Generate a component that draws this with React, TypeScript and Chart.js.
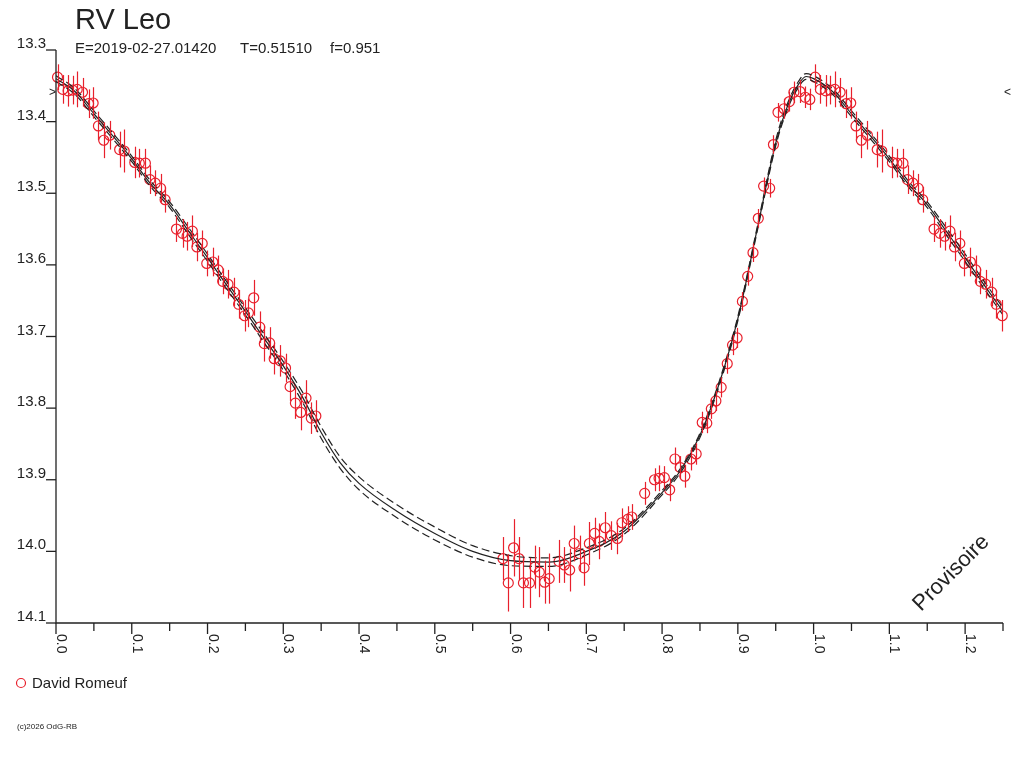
import React, { useEffect, useRef } from "react";
import { Chart, registerables } from "chart.js";

Chart.register(...registerables);

// Observations (phase, magnitude, error) - David Romeuf
const obsPhase = [
  0.002, 0.009, 0.016, 0.022, 0.028, 0.035, 0.043, 0.049, 0.056, 0.063,
  0.071, 0.084, 0.09, 0.104, 0.11, 0.118, 0.124, 0.131, 0.138, 0.144,
  0.159, 0.167, 0.173, 0.18, 0.186, 0.193, 0.199, 0.207, 0.214, 0.22,
  0.227, 0.235, 0.241, 0.249, 0.254, 0.261, 0.269, 0.275, 0.282, 0.288,
  0.296, 0.303, 0.309, 0.316, 0.323, 0.33, 0.337, 0.343,
  0.59, 0.597, 0.604, 0.611, 0.617, 0.625, 0.632, 0.638, 0.645, 0.651,
  0.664, 0.671, 0.678, 0.684, 0.691, 0.697, 0.704, 0.711, 0.717, 0.725,
  0.733, 0.741, 0.747, 0.755, 0.76, 0.777, 0.79, 0.796, 0.803, 0.81,
  0.817, 0.824, 0.83, 0.838, 0.845, 0.853, 0.859, 0.865, 0.871, 0.878,
  0.886, 0.893, 0.899, 0.906, 0.913, 0.92, 0.927, 0.934, 0.942, 0.947,
  0.953, 0.961, 0.968, 0.974, 0.982, 0.989, 0.995,
];
const obsMag = [
  13.338, 13.355, 13.357, 13.356, 13.355, 13.359, 13.375, 13.374, 13.406, 13.426,
  13.419, 13.439, 13.441, 13.457, 13.458, 13.458, 13.481, 13.486, 13.493, 13.509,
  13.55, 13.556, 13.56, 13.553, 13.575, 13.57, 13.598, 13.596, 13.607, 13.623,
  13.627, 13.638, 13.655, 13.671, 13.667, 13.646, 13.687, 13.71, 13.709, 13.731,
  13.734, 13.744, 13.77, 13.793, 13.806, 13.786, 13.814, 13.811,
  14.01, 14.044, 13.995, 14.01, 14.044, 14.044, 14.022, 14.029, 14.043, 14.038,
  14.014, 14.019, 14.026, 13.989, 14.003, 14.023, 13.989, 13.975, 13.986, 13.967,
  13.978, 13.982, 13.96, 13.955, 13.952, 13.919, 13.9, 13.898, 13.897, 13.914,
  13.871, 13.883, 13.895, 13.871, 13.864, 13.82, 13.821, 13.801, 13.79, 13.771,
  13.738, 13.712, 13.702, 13.651, 13.616, 13.583, 13.535, 13.49, 13.493, 13.432,
  13.387, 13.382, 13.372, 13.359, 13.358, 13.366, 13.369,
];
const obsErr = [
  0.018, 0.02, 0.022, 0.02, 0.025, 0.02, 0.02, 0.022, 0.02, 0.025,
  0.02, 0.025, 0.03, 0.022, 0.02, 0.02, 0.02, 0.018, 0.02, 0.018,
  0.018, 0.02, 0.02, 0.022, 0.02, 0.018, 0.018, 0.02, 0.02, 0.018,
  0.02, 0.02, 0.02, 0.022, 0.02, 0.025, 0.022, 0.025, 0.022, 0.022,
  0.022, 0.02, 0.02, 0.022, 0.025, 0.025, 0.022, 0.022,
  0.03, 0.04, 0.04, 0.03, 0.035, 0.035, 0.03, 0.035, 0.03, 0.035,
  0.03, 0.025, 0.03, 0.025, 0.025, 0.025, 0.03, 0.022, 0.025, 0.022,
  0.02, 0.022, 0.02, 0.018, 0.018, 0.016, 0.016, 0.018, 0.016, 0.016,
  0.016, 0.016, 0.016, 0.016, 0.015, 0.015, 0.014, 0.014, 0.014, 0.014,
  0.014, 0.014, 0.014, 0.013, 0.013, 0.013, 0.013, 0.012, 0.013, 0.013,
  0.013, 0.014, 0.014, 0.015, 0.016, 0.015, 0.015,
];

// Fitted light curve and its dashed envelope (half width)
const fitPhase = [
  0, 0.025, 0.05, 0.075, 0.1, 0.125, 0.15, 0.175, 0.2, 0.225,
  0.25, 0.275, 0.3, 0.325, 0.35, 0.375, 0.4, 0.45, 0.5, 0.55,
  0.6, 0.65, 0.7, 0.75, 0.8, 0.825, 0.85, 0.875, 0.9, 0.925,
  0.95, 0.965, 0.98, 0.99, 1.0,
];
const fitMag = [
  13.34, 13.358, 13.389, 13.42, 13.452, 13.487, 13.516, 13.553, 13.59, 13.628,
  13.665, 13.703, 13.741, 13.784, 13.834, 13.876, 13.905, 13.944, 13.975, 14.0,
  14.013, 14.015, 14.0, 13.972, 13.918, 13.886, 13.838, 13.767, 13.675, 13.553,
  13.43, 13.38, 13.348, 13.337, 13.34,
];
const fitSpread = [
  0.004, 0.004, 0.004, 0.004, 0.004, 0.004, 0.004, 0.005, 0.005, 0.005,
  0.005, 0.006, 0.006, 0.007, 0.008, 0.008, 0.009, 0.009, 0.009, 0.008,
  0.007, 0.006, 0.005, 0.004, 0.003, 0.003, 0.003, 0.003, 0.003, 0.003,
  0.004, 0.004, 0.004, 0.004, 0.004,
];

const yTickValues = [13.3, 13.4, 13.5, 13.6, 13.7, 13.8, 13.9, 14.0, 14.1];
const yTickLabels = ["13.3", "13.4", "13.5", "13.6", "13.7", "13.8", "13.9", "14.0", "14.1"];
const xMajorTicks = [0, 0.1, 0.2, 0.3, 0.4, 0.5, 0.6, 0.7, 0.8, 0.9, 1.0, 1.1, 1.2];
const xTickLabels = ["0.0", "0.1", "0.2", "0.3", "0.4", "0.5", "0.6", "0.7", "0.8", "0.9", "1.0", "1.1", "1.2"];
const xMinorTicks = [0.05, 0.15, 0.25, 0.35, 0.45, 0.55, 0.65, 0.75, 0.85, 0.95, 1.05, 1.15, 1.25];

const refMag = 13.359;
const PHASE_MAX = 1.25;

const RED = "#e8202c";
const INK = "#222222";
const FONT = '"Liberation Sans", Arial, sans-serif';

// repeat phases 0..0.25 after 1.0
const fold = (pts: { x: number; y: number; e?: number }[]) => [
  ...pts,
  ...pts.filter((p) => p.x > 0 && p.x + 1 <= PHASE_MAX + 0.001).map((p) => ({ ...p, x: p.x + 1 })),
];

const observations = fold(obsPhase.map((p, i) => ({ x: p, y: obsMag[i], e: obsErr[i] })));
const fitMid = fold(fitPhase.map((p, i) => ({ x: p, y: fitMag[i] })));
const fitHi = fold(fitPhase.map((p, i) => ({ x: p, y: fitMag[i] - fitSpread[i] })));
const fitLo = fold(fitPhase.map((p, i) => ({ x: p, y: fitMag[i] + fitSpread[i] })));

const errorBars = {
  id: "errorBars",
  afterDatasetsDraw(chart: any) {
    const { ctx, scales } = chart;
    const ds = chart.data.datasets[3].data as any[];
    ctx.save();
    ctx.strokeStyle = RED;
    ctx.lineWidth = 1.2;
    ds.forEach((p) => {
      const x = Math.round(scales.x.getPixelForValue(p.x)) + 0.5;
      ctx.beginPath();
      ctx.moveTo(x, scales.y.getPixelForValue(p.y - p.e));
      ctx.lineTo(x, scales.y.getPixelForValue(p.y + p.e));
      ctx.stroke();
    });
    ctx.restore();
  },
};

const decorations = {
  id: "decorations",
  afterDraw(chart: any) {
    const { ctx, scales, chartArea } = chart;
    const { left, right, top, bottom } = chartArea;
    ctx.save();
    ctx.strokeStyle = INK;
    ctx.fillStyle = INK;
    ctx.lineWidth = 1.3;

    // axes
    ctx.beginPath();
    ctx.moveTo(left, top);
    ctx.lineTo(left, bottom);
    ctx.lineTo(right, bottom);
    ctx.stroke();

    // y ticks
    ctx.font = `15px ${FONT}`;
    ctx.textAlign = "right";
    ctx.textBaseline = "alphabetic";
    yTickValues.forEach((v, i) => {
      const y = scales.y.getPixelForValue(v);
      ctx.beginPath();
      ctx.moveTo(left - 10, y);
      ctx.lineTo(left, y);
      ctx.stroke();
      ctx.fillText(yTickLabels[i], left - 10, y - 2);
    });

    // x ticks
    xMajorTicks.forEach((v, i) => {
      const x = scales.x.getPixelForValue(v);
      ctx.beginPath();
      ctx.moveTo(x, bottom);
      ctx.lineTo(x, bottom + 11);
      ctx.stroke();
      ctx.save();
      ctx.translate(x + 1, bottom + 11);
      ctx.rotate(Math.PI / 2);
      ctx.font = `14px ${FONT}`;
      ctx.textAlign = "left";
      ctx.fillText(xTickLabels[i], 0, 0);
      ctx.restore();
    });
    xMinorTicks.forEach((v) => {
      const x = scales.x.getPixelForValue(v);
      ctx.beginPath();
      ctx.moveTo(x, bottom);
      ctx.lineTo(x, bottom + 8);
      ctx.stroke();
    });

    // reference markers
    const yRef = scales.y.getPixelForValue(refMag);
    ctx.font = `12px ${FONT}`;
    ctx.textBaseline = "middle";
    ctx.textAlign = "right";
    ctx.fillText(">", left, yRef);
    ctx.textAlign = "left";
    ctx.fillText("<", right + 1, yRef);

    // title block
    ctx.textBaseline = "alphabetic";
    ctx.font = `29px ${FONT}`;
    ctx.fillText("RV Leo", 75, 29);
    ctx.font = `15px ${FONT}`;
    ctx.fillText("E=2019-02-27.01420", 75, 53);
    ctx.fillText("T=0.51510", 240, 53);
    ctx.fillText("f=0.951", 330, 53);

    // legend
    ctx.strokeStyle = RED;
    ctx.lineWidth = 1.2;
    ctx.beginPath();
    ctx.arc(21, 683, 4.5, 0, Math.PI * 2);
    ctx.stroke();
    ctx.font = `15px ${FONT}`;
    ctx.fillText("David Romeuf", 32, 688);

    ctx.font = `8px ${FONT}`;
    ctx.fillText("(c)2026 OdG-RB", 17, 729);

    // watermark
    ctx.save();
    ctx.translate(921, 612);
    ctx.rotate(-Math.PI / 4);
    ctx.font = `22px ${FONT}`;
    ctx.fillText("Provisoire", 0, 0);
    ctx.restore();

    ctx.restore();
  },
};

export default function App() {
  const canvasRef = useRef<HTMLCanvasElement | null>(null);

  useEffect(() => {
    if (!canvasRef.current) return;
    const lineBase = {
      type: "line" as const,
      borderColor: INK,
      borderWidth: 1.2,
      pointRadius: 0,
      fill: false,
      cubicInterpolationMode: "monotone" as const,
    };
    const chart = new Chart(canvasRef.current, {
      type: "scatter",
      data: {
        datasets: [
          { ...lineBase, data: fitHi, borderDash: [8, 4] },
          { ...lineBase, data: fitMid },
          { ...lineBase, data: fitLo, borderDash: [8, 4] },
          {
            type: "scatter",
            data: observations,
            pointStyle: "circle",
            pointRadius: 5,
            borderColor: RED,
            borderWidth: 1.2,
            backgroundColor: "rgba(0,0,0,0)",
            clip: false,
          } as any,
        ],
      },
      options: {
        responsive: false,
        animation: false,
        layout: { padding: { left: 56, top: 50, right: 21, bottom: 145 } },
        plugins: { legend: { display: false }, tooltip: { enabled: false } },
        scales: {
          x: { type: "linear", min: 0, max: PHASE_MAX, display: false },
          y: { type: "linear", min: 13.3, max: 14.1, reverse: true, display: false },
        },
      },
      plugins: [errorBars, decorations],
    });
    return () => chart.destroy();
  }, []);

  return (
    <div style={{ position: "absolute", left: 0, top: 0, width: 1024, height: 768, background: "#fff" }}>
      <canvas ref={canvasRef} width={1024} height={768} />
    </div>
  );
}
